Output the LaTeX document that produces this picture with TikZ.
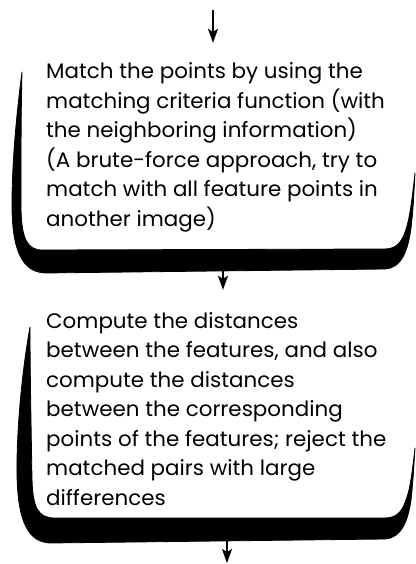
\documentclass[tikz,border=0pt]{standalone}
\usepackage{fontspec}
\setmainfont{Poppins}[FakeStretch=1.02]
\usetikzlibrary{arrows.meta}
\begin{document}
\begin{tikzpicture}[x=1pt,y=-1pt,
  % multi-line nodes: the base anchor sits on the last line
  txt/.style={font=\fontsize{21}{29.5}\selectfont, align=left, inner sep=0pt, anchor=base west},
  frame/.style={draw=none, inner sep=0pt, minimum width=400pt},
  shade/.style={fill=black, draw=black, line width=0.8pt, line join=round},
  arr/.style={draw=black, line width=1.6pt, -{Stealth[length=14pt, width=10pt, inset=3pt]}}]
  \useasboundingbox[fill=white] (0,0) rectangle (415,564);

  % invisible frames used as connector ends
  \node[frame, minimum height=228pt] (box1) at (213,157) {};
  \node[frame, minimum height=251pt] (box2) at (213,415.5) {};
  \coordinate (src) at (213,10);
  \coordinate (mid) at (223,0);
  \coordinate (sink) at (227,563);

  % first box: open top, heavy lower-left rim
  \filldraw[shade] (22,72) .. controls (17,110) and (12,160) .. (12,205)
    .. controls (12,250) and (22,272) .. (45,273) -- (385,269)
    .. controls (402,268) and (408,250) .. (411,228)
    .. controls (413,210) .. (415,173)
    .. controls (412,200) and (410,215) .. (407,226)
    .. controls (403,240) and (398,249) .. (385,249) -- (42,250)
    .. controls (27,250) and (21,238) .. (21,205)
    .. controls (21,150) and (21,110) .. (22,72) -- cycle;

  % second box
  \filldraw[shade] (30,327) .. controls (24,360) and (18,410) .. (17,460)
    .. controls (16,515) and (25,542) .. (50,543) -- (385,539)
    .. controls (402,538) and (408,520) .. (411,500)
    .. controls (413,480) .. (415,448)
    .. controls (412,475) and (410,488) .. (407,497)
    .. controls (403,510) and (398,518) .. (385,518) -- (55,518)
    .. controls (38,518) and (33,508) .. (32,480)
    .. controls (31,420) and (30,370) .. (30,327) -- cycle;

  \node[txt] (t1) at (46,226) {Match the points by using the\\
    matching criteria function (with\\
    the neighboring information)\\
    (A brute-force approach, try to\\
    match with all feature points in\\
    another image)};

  \node[txt] (t2) at (46,505) {Compute the distances\\
    between the features, and also\\
    compute the distances\\
    between the corresponding\\
    points of the features; reject the\\
    matched pairs with large\\
    differences};

  % flow arrows
  \draw[arr] (src) -- (src |- box1.north);
  \draw[arr] (box1.south -| mid) -- (box2.north -| mid);
  \draw[arr] (box2.south -| sink) -- (sink);
\end{tikzpicture}
\end{document}
